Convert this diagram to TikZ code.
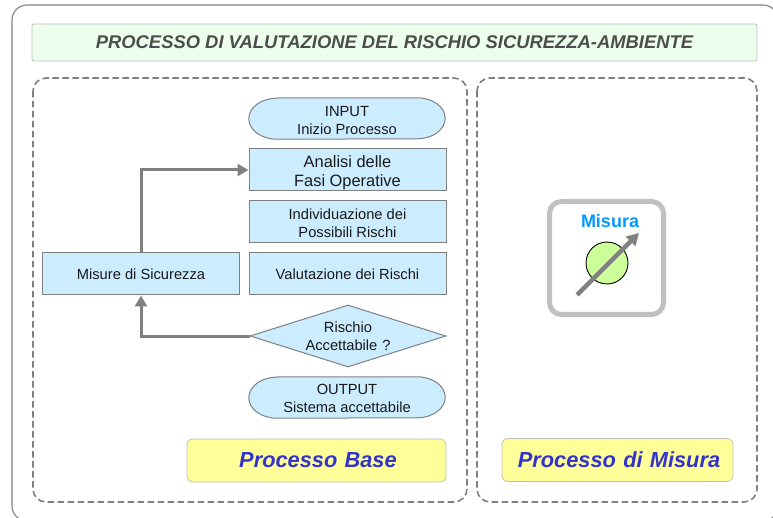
\documentclass[tikz,border=0pt]{standalone}
\usepackage{fontspec}
\setmainfont{Liberation Sans}
\usetikzlibrary{arrows.meta,shapes.geometric,backgrounds}
\definecolor{boxblue}{RGB}{204,236,255}
\definecolor{edgegray}{RGB}{128,128,128}
\definecolor{titlegreen}{RGB}{236,255,236}
\definecolor{labelyellow}{RGB}{255,255,153}
\definecolor{labelblue}{RGB}{51,51,204}
\definecolor{titlegray}{RGB}{77,77,77}
\definecolor{frameLight}{RGB}{192,192,192}
\definecolor{meterblue}{RGB}{0,153,255}
\definecolor{metergreen}{RGB}{204,255,153}
\tikzset{
  x=1pt,y=-1pt,
  textbase/.style={inner sep=0pt,align=center,text=black!90,font=\fontsize{14.7}{18}\selectfont},
  procbox/.style={textbase,draw=edgegray,fill=boxblue,line width=1pt,rectangle,minimum width=197pt,minimum height=42pt},
  termbox/.style={textbase,rectangle,minimum width=196pt,minimum height=41pt},
  termshape/.style={draw=edgegray,fill=boxblue,line width=1pt},
  decbox/.style={textbase,draw=edgegray,fill=boxblue,line width=1pt,diamond,aspect=3.16,minimum width=196pt,minimum height=62pt},
  yellowbox/.style={draw=frameLight,fill=labelyellow,line width=.8pt,rounded corners=6pt,inner sep=0pt,text=labelblue,font=\fontsize{21.8}{26}\selectfont\bfseries\itshape},
  dashframe/.style={draw=edgegray,line width=1.6pt,dash pattern=on 6.5pt off 3.5pt,rounded corners=13pt},
  flow/.style={draw=edgegray,line width=3pt,-{Triangle[length=11pt,width=12pt]}},
}
\begin{document}
\begin{tikzpicture}
\useasboundingbox (0,0) rectangle (773,518);
\node[termbox] (input) at (347,118.5) {\rule{0pt}{14pt}INPUT\\Inizio Processo};
\node[termbox] (output) at (347,397.5) {\rule{0pt}{12.5pt}OUTPUT\\Sistema accettabile};
\begin{scope}[on background layer]
\fill[white] (0,0) rectangle (773,518);
\draw[termshape] ([xshift=28pt]input.north west) -- ([xshift=-28pt]input.north east) arc[start angle=90,end angle=-90,x radius=28pt,y radius=20.5pt] -- ([xshift=28pt]input.south west) arc[start angle=270,end angle=90,x radius=28pt,y radius=20.5pt] -- cycle;
\draw[termshape] ([xshift=28pt]output.north west) -- ([xshift=-28pt]output.north east) arc[start angle=90,end angle=-90,x radius=28pt,y radius=20.5pt] -- ([xshift=28pt]output.south west) arc[start angle=270,end angle=90,x radius=28pt,y radius=20.5pt] -- cycle;
\end{scope}
\draw[edgegray,line width=1.1pt,rounded corners=15pt] (12,5) rectangle (778,521);
\node[draw=frameLight,fill=titlegreen,line width=.8pt,rounded corners=2pt,minimum width=725pt,minimum height=37pt,inner sep=0pt,text=titlegray,font=\fontsize{18.4}{22}\selectfont\bfseries\itshape] (title) at (394.5,42.5) {PROCESSO DI VALUTAZIONE DEL RISCHIO SICUREZZA-AMBIENTE};
\draw[dashframe] (33,78) rectangle (467,502);
\draw[dashframe] (477,78) rectangle (757,502);
\node[procbox,font=\fontsize{16.4}{18.6}\selectfont] (analisi) at (347.5,170) {\rule{0pt}{18pt}Analisi delle\\Fasi Operative};
\node[procbox] (indiv) at (347.5,222) {\rule{0pt}{13pt}Individuazione dei\\Possibili Rischi};
\node[procbox] (valut) at (347.5,274) {Valutazione dei Rischi};
\node[procbox] (misure) at (141,274) {Misure di Sicurezza};
\node[decbox,text width=100pt] (rischio) at (348,336) {Rischio\\Accettabile ?};
\node[yellowbox,minimum width=259pt,minimum height=43pt,text width=259pt,align=center] (pbase) at (316.5,460.5) {\hspace*{3pt}Processo Base};
\node[yellowbox,minimum width=231pt,minimum height=43pt,text width=231pt,align=center] (pmis) at (617.5,460) {\hspace*{3pt}Processo di Misura};
\draw[flow] (misure.north) |- (analisi.west);
\draw[flow] (rischio.west) -| (misure.south);
\node[draw=frameLight,line width=5pt,rounded corners=12pt,fill=white,minimum width=114pt,minimum height=113pt,inner sep=0pt] (meter) at (606.5,258) {};
\node[inner sep=0pt,text=meterblue,font=\fontsize{18}{20}\selectfont\bfseries] (mislabel) at (610,221) {Misura};
\node[circle,draw=black,fill=metergreen,line width=.9pt,minimum size=42pt,inner sep=0pt] (dial) at (607,263) {};
\coordinate (needleA) at (577,295);
\coordinate (needleB) at (639,233);
\draw[edgegray,line width=4.5pt,-{Triangle[length=12pt,width=13pt]}] (needleA) -- (needleB);
\end{tikzpicture}
\end{document}
